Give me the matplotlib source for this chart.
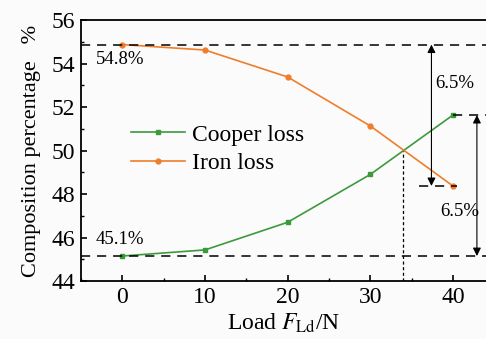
import matplotlib.pyplot as plt
from matplotlib.ticker import MultipleLocator

plt.rcParams['font.family'] = ['Liberation Serif', 'DejaVu Serif']
plt.rcParams['mathtext.fontset'] = 'stix'

load = [0, 10, 20, 30, 40]
copper_loss = [45.15, 45.43, 46.7, 48.9, 51.63]
iron_loss = [54.87, 54.62, 53.38, 51.13, 48.37]

green = '#3c9a3c'
orange = '#f07d2a'

fig = plt.figure(figsize=(4.86, 3.39), dpi=100)
fig.patch.set_facecolor('#fbfbfb')
ax = fig.add_axes([0.1667, 0.171, 0.8333, 0.77])
ax.set_facecolor('#fbfbfb')

ax.plot(load, copper_loss, '-s', color=green, ms=3.5, lw=1.2, label='Cooper loss')
ax.plot(load, iron_loss, '-o', color=orange, ms=3.5, lw=1.2, label='Iron loss')

ax.set_xlim(-5, 44)
ax.set_ylim(44, 56)

# reference lines
dash = (0, (6, 4.5))
ax.axhline(iron_loss[0], color='black', ls=dash, lw=1.1)
ax.axhline(copper_loss[0], color='black', ls=dash, lw=1.1)
ax.plot([40, 44], [copper_loss[-1]] * 2, color='black', ls=dash, lw=1.1)
ax.plot([35.9, 40.5], [iron_loss[-1]] * 2, color='black', ls=dash, lw=1.1)
ax.plot([34, 34], [44, 50.0], color='black', ls=(0, (2.5, 2)), lw=0.9)

arrow = dict(arrowstyle='<|-|>', color='black', lw=0.8, mutation_scale=12, shrinkA=0, shrinkB=0)
ax.annotate('', xy=(37.4, iron_loss[0]), xytext=(37.4, iron_loss[-1]), arrowprops=arrow)
ax.annotate('', xy=(42.9, copper_loss[-1]), xytext=(42.9, copper_loss[0]), arrowprops=arrow)

ax.text(37.8, 53.1, '6.5%', fontsize=13.5, va='center')
ax.text(38.5, 47.2, '6.5%', fontsize=13.5, va='center')
ax.text(-3.2, 54.2, '54.8%', fontsize=13.5, va='center')
ax.text(-3.2, 45.9, '45.1%', fontsize=13.5, va='center')

ax.xaxis.set_major_locator(MultipleLocator(10))
ax.xaxis.set_minor_locator(MultipleLocator(5))
ax.yaxis.set_major_locator(MultipleLocator(2))
ax.yaxis.set_minor_locator(MultipleLocator(1))
ax.tick_params(which='both', direction='in', labelsize=17, top=False, right=False)
ax.tick_params(which='major', length=4, width=1.2, pad=4)
ax.tick_params(which='minor', length=2.5, width=1.0)
ax.spines['right'].set_visible(False)
for s in ['left', 'bottom', 'top']:
    ax.spines[s].set_linewidth(1.3)

ax.set_xlabel('Load $F_{\\rm Ld}$/N', fontsize=17, labelpad=3)
ax.set_ylabel('Composition percentage   %', fontsize=16, labelpad=8)

ax.legend(loc='center left', bbox_to_anchor=(0.07, 0.505), fontsize=17, frameon=False,
          handlelength=2.3, handletextpad=0.3, labelspacing=0.3)

fig.savefig('out.png', dpi=100, facecolor=fig.get_facecolor())
